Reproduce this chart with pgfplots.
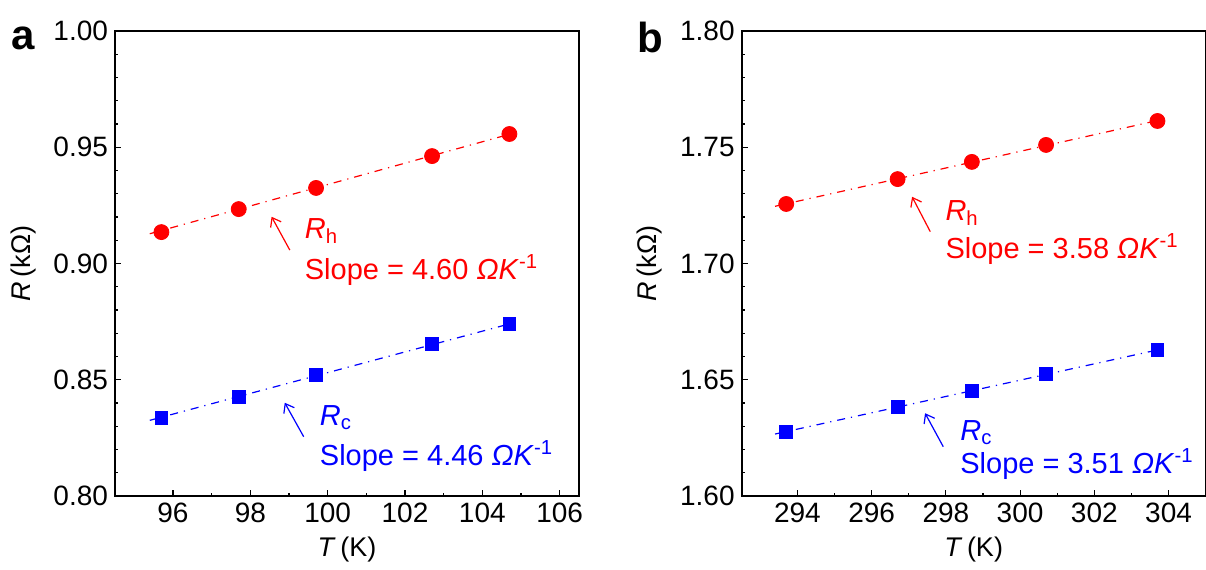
\documentclass[border=0pt]{standalone}
\usepackage{pgfplots}
\pgfplotsset{compat=1.18}
\usepackage{fontspec}
\setmainfont{Liberation Sans}
\usetikzlibrary{arrows.meta}
\definecolor{myred}{RGB}{255,0,0}
\definecolor{myblue}{RGB}{0,0,255}
\tikzset{
  ann/.style={font=\fontsize{14.5}{17}\selectfont, anchor=base west, inner sep=0pt},
  annarrow/.style={line width=0.6pt, -{Straight Barb[length=4pt,width=6pt]}},
}
\pgfplotsset{
  myaxis/.style={
    scale only axis, width=232pt, height=232.5pt,
    axis line style={line width=0.8pt},
    tick align=inside, tick pos=left,
    major tick length=3pt, minor tick length=1.7pt,
    every tick/.style={black, line width=0.6pt},
    minor x tick num=1, minor y tick num=4,
    /pgf/number format/assume math mode=true,
    tick label style={font=\fontsize{14}{16}\selectfont},
    yticklabel style={/pgf/number format/fixed, /pgf/number format/precision=2, /pgf/number format/fixed zerofill},
    label style={font=\fontsize{13.5}{16}\selectfont},
    xlabel={\textit{T}\,(K)},
    ylabel={\textit{R}\,(kΩ)},
    xlabel style={at={(axis description cs:0.5,-0.116)}, anchor=center},
    ylabel style={at={(axis description cs:-0.198,0.5)}, anchor=center},
    clip=false,
  },
  redpt/.style={only marks, mark=*, mark size=3.75pt, color=myred},
  bluept/.style={only marks, mark=square*, mark size=3.2pt, color=myblue},
  fitline/.style={no marks, line width=0.6pt, dash pattern=on 4pt off 3pt on 0.6pt off 3pt},
}
\begin{document}
\begin{tikzpicture}
\path[use as bounding box] (-57.5pt,-36.5pt) rectangle (545.5pt,248pt);
% Panel a
\begin{axis}[myaxis,
  xmin=94.5, xmax=106.5, ymin=0.80, ymax=1.00,
  xtick={96,98,100,102,104,106},
  ytick={0.80,0.85,0.90,0.95,1.00}]
\addplot[fitline, myred] coordinates {(95.4,0.91280) (104.75,0.95581)};
\addplot[fitline, myblue] coordinates {(95.4,0.83254) (104.75,0.87424)};
\addplot[redpt] coordinates {(95.7,0.9135) (97.7,0.9234) (99.7,0.9325) (102.7,0.9462) (104.7,0.9557)};
\addplot[bluept] coordinates {(95.7,0.8335) (97.7,0.8426) (99.7,0.8520) (102.7,0.8654) (104.7,0.8740)};
\draw[myred, annarrow] (axis cs:99.02,0.9058) -- (axis cs:98.55,0.9201);
\node[ann, text=myred] at (axis cs:99.40,0.9106) {\textit{R}\textsubscript{h}};
\node[ann, text=myred] at (axis cs:99.40,0.8932) {Slope = 4.60 \textit{ΩK}\textsuperscript{-1}};
\draw[myblue, annarrow] (axis cs:99.38,0.8255) -- (axis cs:98.89,0.8401);
\node[ann, text=myblue] at (axis cs:99.79,0.8304) {\textit{R}\textsubscript{c}};
\node[ann, text=myblue] at (axis cs:99.79,0.8133) {Slope = 4.46 \textit{ΩK}\textsuperscript{-1}};
\node[font=\fontsize{21}{25}\selectfont\bfseries, anchor=center] at (axis description cs:-0.198,0.985) {a};
\end{axis}
% Panel b
\begin{axis}[myaxis, xshift=313.35pt,
  xmin=292.5, xmax=305, ymin=1.60, ymax=1.80,
  xtick={294,296,298,300,302,304},
  ytick={1.60,1.65,1.70,1.75,1.80}]
\addplot[fitline, myred] coordinates {(293.4,1.72461) (303.8,1.76184)};
\addplot[fitline, myblue] coordinates {(293.4,1.62666) (303.8,1.66317)};
\addplot[redpt] coordinates {(293.7,1.7256) (296.7,1.7363) (298.7,1.7437) (300.7,1.7510) (303.7,1.7613)};
\addplot[bluept] coordinates {(293.7,1.6275) (296.7,1.6383) (298.7,1.6452) (300.7,1.6525) (303.7,1.6628)};
\draw[myred, annarrow] (axis cs:297.58,1.7137) -- (axis cs:297.09,1.7287);
\node[ann, text=myred] at (axis cs:297.98,1.7185) {\textit{R}\textsubscript{h}};
\node[ann, text=myred] at (axis cs:297.98,1.7022) {Slope = 3.58 \textit{ΩK}\textsuperscript{-1}};
\draw[myblue, annarrow] (axis cs:297.93,1.6212) -- (axis cs:297.44,1.6356);
\node[ann, text=myblue] at (axis cs:298.38,1.6240) {\textit{R}\textsubscript{c}};
\node[ann, text=myblue] at (axis cs:298.38,1.6098) {Slope = 3.51 \textit{ΩK}\textsuperscript{-1}};
\node[font=\fontsize{21}{25}\selectfont\bfseries, anchor=center] at (axis description cs:-0.198,0.985) {b};
\end{axis}
\end{tikzpicture}
\end{document}
